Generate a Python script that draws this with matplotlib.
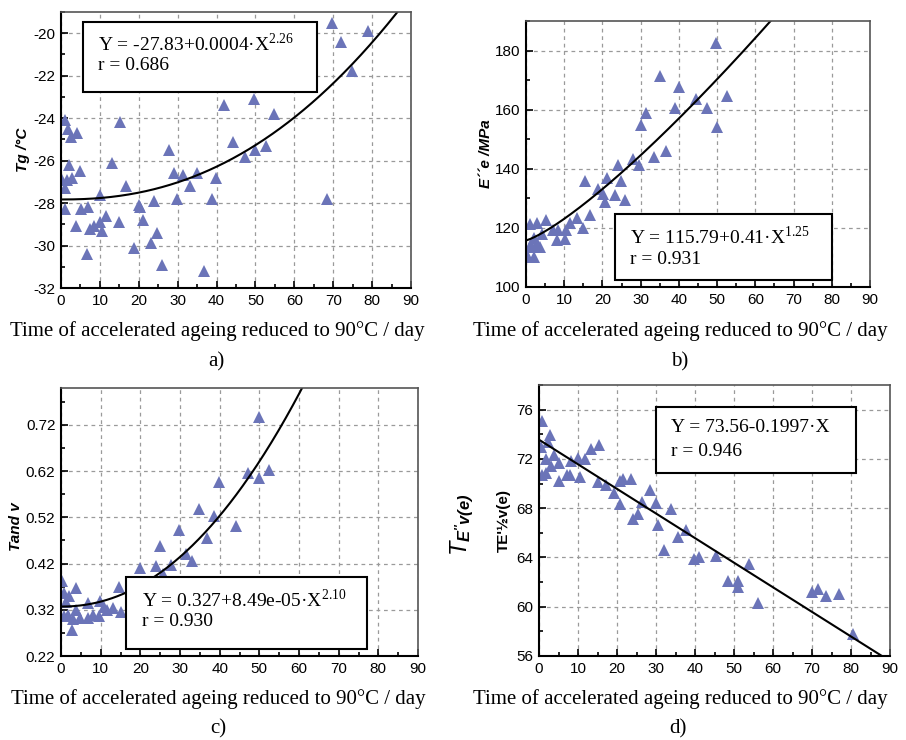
import matplotlib
matplotlib.use("Agg")
import matplotlib.pyplot as plt
from matplotlib.patches import Rectangle
from matplotlib.ticker import MultipleLocator
import numpy as np

plt.rcParams["font.family"] = ["Liberation Sans", "DejaVu Sans"]
plt.rcParams["axes.unicode_minus"] = False
plt.rcParams["mathtext.fontset"] = "custom"
plt.rcParams["mathtext.rm"] = "Liberation Serif"
plt.rcParams["mathtext.it"] = "Liberation Sans:italic"
plt.rcParams["mathtext.bf"] = "Liberation Sans:bold"
plt.rcParams["mathtext.bfit"] = "Liberation Sans:italic:bold"

SERIF = ["Liberation Serif", "DejaVu Serif"]
XLABEL = "Time of accelerated ageing reduced to 90°C / day"

# panel a) Tg
tg_x = [1.0, 1.9, 2.6, 4.0, 2.1, 0.2, 1.5, 2.9, 4.9, 0.9, 1.0, 5.1, 6.9, 3.8, 7.5, 8.5,
        6.6, 10.0, 9.9, 10.5, 11.5, 13.0, 15.1, 14.9, 16.6, 18.8, 20.0, 20.4, 21.0, 23.1,
        24.0, 24.8, 25.9, 27.8, 29.1, 29.8, 31.4, 33.2, 34.9, 36.8, 38.8, 39.8, 42.0,
        44.3, 47.3, 49.7, 49.9, 52.7, 54.8, 68.4, 69.7, 71.9, 74.8, 78.9]
tg_y = [-24.1, -24.5, -24.9, -24.7, -26.2, -26.9, -26.9, -26.8, -26.5, -27.3, -28.3, -28.3,
        -28.2, -29.1, -29.2, -29.1, -30.4, -27.6, -28.9, -29.3, -28.6, -26.1, -24.2, -28.9,
        -27.2, -30.1, -28.1, -28.2, -28.8, -29.9, -27.9, -29.4, -30.9, -25.5, -26.6, -27.8,
        -26.7, -27.2, -26.6, -31.2, -27.8, -26.8, -23.4, -25.1, -25.85, -23.1, -25.5, -25.3,
        -23.8, -27.8, -19.5, -20.4, -21.8, -19.9]

# panel b) E''e
ee_x = [49.8, 35.0, 40.0, 52.6, 44.6, 38.9, 47.4, 31.5, 30.0, 50.0, 36.7, 33.4, 28.0, 24.2,
        29.5, 21.2, 15.4, 24.9, 18.9, 23.3, 20.1, 20.7, 26.0, 16.8, 13.3, 11.5, 14.9, 10.5,
        10.1, 8.1, 8.4, 7.0, 5.2, 2.8, 1.0, 4.2, 2.2, 2.8, 1.0, 1.7, 3.7, 0.4, 2.0]
ee_y = [182.5, 171.4, 167.6, 164.6, 163.7, 160.5, 160.5, 158.8, 154.9, 154.0, 146.1, 144.1,
        143.2, 141.4, 141.2, 137.0, 135.9, 135.8, 133.3, 131.1, 131.4, 128.7, 129.6, 124.3,
        123.2, 121.5, 119.8, 119.4, 116.4, 116.0, 119.2, 119.4, 122.6, 121.7, 121.2, 118.1,
        116.7, 115.0, 113.9, 113.6, 113.6, 110.2, 110.2]

# panel c) tan delta
td_x = [49.9, 52.5, 47.2, 49.9, 39.8, 34.8, 38.6, 44.2, 29.7, 36.7, 24.9, 31.4, 33.1, 27.8,
        19.8, 24.0, 25.8, 14.7, 0.25, 3.8, 0.8, 2.1, 1.3, 6.7, 9.9, 3.9, 10.9, 13.0, 11.5,
        0.8, 1.7, 3.1, 4.8, 6.7, 8.0, 9.7, 15.2, 2.8]
td_y = [0.737, 0.623, 0.616, 0.605, 0.596, 0.538, 0.523, 0.502, 0.492, 0.475, 0.459, 0.441,
        0.425, 0.416, 0.411, 0.414, 0.397, 0.370, 0.383, 0.368, 0.356, 0.349, 0.337, 0.334,
        0.340, 0.319, 0.326, 0.324, 0.320, 0.306, 0.308, 0.299, 0.302, 0.303, 0.308, 0.306,
        0.315, 0.277]

# panel d) T E''v(e)
te_x = [0.85, 2.8, 0.4, 2.2, 15.5, 13.3, 1.8, 3.9, 10.1, 11.8, 5.0, 3.1, 8.1, 0.7, 1.9, 7.1,
        7.9, 10.4, 5.2, 15.2, 17.2, 20.8, 21.5, 23.6, 19.2, 28.5, 20.8, 24.0, 25.5, 26.3,
        29.9, 33.8, 30.6, 37.6, 35.7, 32.1, 39.8, 40.9, 45.3, 53.8, 48.4, 51.1, 51.1, 56.2,
        69.9, 71.6, 73.6, 76.8, 80.6]
te_y = [75.05, 73.96, 72.93, 73.4, 73.1, 72.8, 71.98, 72.3, 72.1, 72.0, 71.7, 71.4, 71.8,
        70.7, 70.85, 70.7, 70.7, 70.5, 70.2, 70.1, 69.9, 70.2, 70.4, 70.4, 69.2, 69.5, 68.3,
        67.1, 67.5, 68.5, 68.4, 67.9, 66.6, 66.2, 65.7, 64.6, 63.9, 64.0, 64.1, 63.5, 62.1,
        62.1, 61.6, 60.3, 61.2, 61.4, 60.9, 61.0, 57.8]

W, H = 906, 740
fig = plt.figure(figsize=(W / 100, H / 100), dpi=100)


def fx(x):
    return x / W


def fy(y):
    return 1 - y / H


def make_axes(left, top, right, bottom):
    return fig.add_axes([fx(left), fy(bottom), (right - left) / W, (bottom - top) / H])


def style_axes(ax, ylim, ymajor, yminor, yoffset=0.0, yfmt=None):
    ax.set_xlim(0, 90)
    ax.set_ylim(*ylim)
    ax.xaxis.set_major_locator(MultipleLocator(10))
    ax.xaxis.set_minor_locator(MultipleLocator(5))
    ax.yaxis.set_major_locator(MultipleLocator(ymajor, offset=yoffset))
    ax.yaxis.set_minor_locator(MultipleLocator(yminor, offset=yoffset))
    if yfmt:
        ax.yaxis.set_major_formatter(yfmt)
    ax.grid(True, which="major", color="#9a9a9a", linestyle=(0, (3, 3)), linewidth=0.9)
    ax.set_axisbelow(True)
    ax.tick_params(direction="in", which="both", top=False, right=False,
                   labelsize=11, colors="black", width=1.2, pad=4)
    ax.tick_params(which="major", length=5)
    ax.tick_params(which="minor", length=3)
    for s in ("left", "bottom"):
        ax.spines[s].set_color("black")
        ax.spines[s].set_linewidth(1.5)
    for s in ("top", "right"):
        ax.spines[s].set_color("#555555")
        ax.spines[s].set_linewidth(1.2)


def eq_box(left, top, right, bottom, text_x, y1, y2, line1, line2):
    fig.patches.append(Rectangle((fx(left), fy(bottom)), (right - left) / W, (bottom - top) / H,
                                 transform=fig.transFigure, facecolor="white",
                                 edgecolor="black", linewidth=1.5, zorder=5))
    fig.text(fx(text_x), fy(y1), line1, family=SERIF, fontsize=14, va="center", zorder=6)
    fig.text(fx(text_x), fy(y2), line2, family=SERIF, fontsize=14, va="center", zorder=6)


MK = dict(marker="^", linestyle="none", color="#6b74b8", markersize=8, markeredgewidth=0)
XFS = 15

# a)
ax = make_axes(61, 12, 411, 288)
style_axes(ax, (-32, -19), 2, 1)
ax.plot(tg_x, tg_y, **MK)
xs = np.linspace(0, 90, 400)
ax.plot(xs, -27.83 + 0.00037 * xs ** 2.26, color="black", lw=1.5)
eq_box(83, 22, 317, 92, 98, 43, 66, r"Y = -27.83+0.0004·X$^{\mathrm{2.26}}$", "r = 0.686")
fig.text(fx(23), fy(150), "Tg /°C", rotation=90, fontsize=11, fontweight="bold",
         style="italic", ha="center", va="center")
fig.text(fx(217), fy(331), XLABEL, family=SERIF, fontsize=XFS, ha="center", va="center")
fig.text(fx(216), fy(362), "a)", family=SERIF, fontsize=15, ha="center", va="center")

# b)
ax = make_axes(526, 21, 870, 287)
style_axes(ax, (100, 190), 20, 10)
ax.plot(ee_x, ee_y, **MK)
ax.plot(xs, 115.79 + 0.41 * xs ** 1.25, color="black", lw=1.5)
eq_box(615, 214, 832, 280, 630, 236, 260, r"Y = 115.79+0.41·X$^{\mathrm{1.25}}$", "r = 0.931")
fig.text(fx(486), fy(154), "E´´e /MPa", rotation=90, fontsize=11, fontweight="bold",
         style="italic", ha="center", va="center")
fig.text(fx(680), fy(331), XLABEL, family=SERIF, fontsize=XFS, ha="center", va="center")
fig.text(fx(680), fy(362), "b)", family=SERIF, fontsize=15, ha="center", va="center")

# c)
ax = make_axes(61, 388, 418, 656)
style_axes(ax, (0.22, 0.80), 0.10, 0.05, yoffset=0.02, yfmt="{x:.2f}")
ax.plot(td_x, td_y, **MK)
ax.plot(xs, 0.327 + 8.49e-5 * xs ** 2.10, color="black", lw=1.5)
eq_box(126, 577, 367, 649, 142, 599, 622, r"Y = 0.327+8.49e-05·X$^{\mathrm{2.10}}$", "r = 0.930")
fig.text(fx(16), fy(527), "Tand v", rotation=90, fontsize=11, fontweight="bold",
         style="italic", ha="center", va="center")
fig.text(fx(218), fy(699), XLABEL, family=SERIF, fontsize=XFS, ha="center", va="center")
fig.text(fx(218), fy(729), "c)", family=SERIF, fontsize=15, ha="center", va="center")

# d)
ax = make_axes(539, 385, 890, 656)
style_axes(ax, (56, 78), 4, 2)
ax.plot(te_x, te_y, **MK)
ax.plot(xs, 73.56 - 0.1997 * xs, color="black", lw=1.5)
eq_box(656, 407, 856, 473, 671, 428, 451, "Y = 73.56-0.1997·X", "r = 0.946")
fig.text(fx(462), fy(525), r"$\mathit{T}_{\mathbfit{E''v(e)}}$", rotation=90, fontsize=17,
         ha="center", va="center")
fig.text(fx(504), fy(520), "TE'½v(e)", rotation=90, fontsize=11, fontweight="bold",
         ha="center", va="center")
fig.text(fx(680), fy(699), XLABEL, family=SERIF, fontsize=XFS, ha="center", va="center")
fig.text(fx(678), fy(729), "d)", family=SERIF, fontsize=15, ha="center", va="center")

fig.savefig("out.png", dpi=100)
